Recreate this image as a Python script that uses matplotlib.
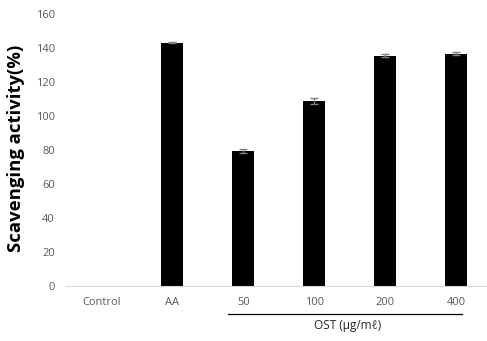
import numpy as np
import matplotlib.pyplot as plt

plt.rcParams['font.family'] = ['Open Sans', 'DejaVu Sans']

categories = ["Control", "AA", "50", "100", "200", "400"]
activity = [0, 143.2, 79.3, 108.8, 135.5, 136.6]
errors = [0, 0.4, 1.0, 1.6, 1.0, 0.8]

W, H = 487, 341
fig = plt.figure(figsize=(W / 100, H / 100), dpi=100)
# axes box in pixel units: left 66, bottom 55, top 14
ax = fig.add_axes([66 / W, (H - 286) / H, (W - 66) / W, (286 - 14) / H])

x = np.arange(len(categories))
ax.bar(x, activity, width=0.31, color="black", zorder=2)
ax.errorbar(x[1:], activity[1:], yerr=errors[1:], fmt="none",
            ecolor="#7f7f7f", elinewidth=1, capsize=3, capthick=1, zorder=3)

ax.set_xlim(-0.5, 5.43)
ax.set_ylim(0, 160)
ax.set_yticks(np.arange(0, 161, 20))
ax.set_xticks(x)
ax.set_xticklabels(categories)
ax.tick_params(axis="both", length=0, labelsize=8, labelcolor="#595959", pad=8)

for side in ["top", "right", "left"]:
    ax.spines[side].set_visible(False)
ax.spines["bottom"].set_color("#d9d9d9")

# y axis title placed in figure pixels
fig.text(16 / W, (H - 148) / H, "Scavenging activity(%)", rotation=90,
         ha="center", va="center", fontsize=13.3, fontweight="bold")

# bracket line and label under the OST concentrations
fig.add_artist(plt.Line2D([228 / W, 462 / W], [(H - 314) / H, (H - 314) / H],
                          color="black", lw=0.9))
fig.text(348 / W, (H - 325) / H, "OST (μg/mℓ)", ha="center", va="center",
         fontsize=8.5, color="#262626")

fig.savefig("out.png", dpi=100)
